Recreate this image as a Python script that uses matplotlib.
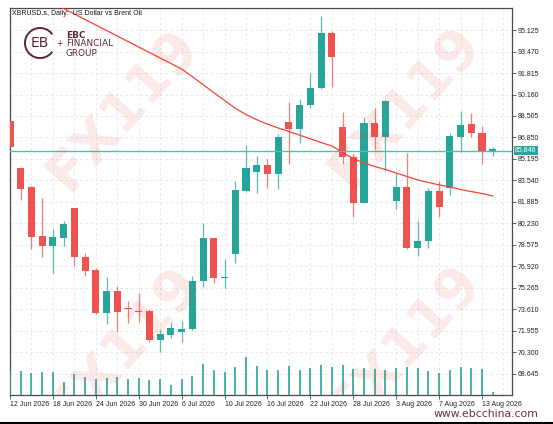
import numpy as np
import matplotlib.pyplot as plt
from matplotlib.patches import Arc

plt.rcParams['font.family'] = ['Liberation Sans', 'DejaVu Sans']

# daily bars, XBRUSD.s, 12 Jun 2026 .. 14 Aug 2026 (trading days)
opens = [88.12, 84.50, 83.04, 79.27, 78.50, 79.11, 81.42, 77.65, 76.65, 73.34,
         75.03, 73.69, 73.45, 73.49, 71.26, 71.65, 71.88, 72.11, 75.80, 79.11,
         76.00, 77.88, 82.73, 84.19, 84.73, 84.04, 88.04, 87.50, 89.35, 90.66,
         94.89, 87.66, 85.35, 81.81, 87.97, 86.89, 81.96, 83.04, 78.34, 78.88,
         82.73, 82.96, 86.89, 87.89, 87.20, 85.84]
highs = [88.20, 84.55, 83.12, 82.19, 79.81, 80.42, 81.46, 77.96, 76.80, 76.11,
         75.42, 74.26, 74.88, 73.65, 72.03, 72.65, 72.73, 76.19, 80.27, 79.15,
         77.50, 83.50, 86.27, 85.42, 85.19, 87.12, 89.58, 89.81, 91.81, 96.20,
         95.05, 88.81, 85.58, 88.43, 89.12, 89.74, 84.12, 85.66, 80.42, 82.96,
         83.50, 87.20, 88.89, 88.73, 87.73, 86.12]
lows = [86.05, 82.04, 78.27, 77.65, 76.42, 78.50, 76.96, 76.19, 73.30, 72.49,
        71.88, 72.57, 72.65, 71.11, 70.34, 71.42, 71.11, 72.03, 75.34, 75.65,
        75.27, 77.19, 82.65, 82.58, 82.96, 82.88, 84.81, 86.43, 89.12, 90.58,
        90.74, 84.81, 80.73, 81.77, 85.97, 84.27, 81.35, 78.27, 77.73, 78.34,
        80.73, 82.42, 85.73, 86.89, 84.81, 85.43]
closes = [86.12, 82.885, 79.19, 78.50, 79.19, 80.19, 77.65, 76.57, 73.34, 75.03,
          73.42, 73.61, 73.38, 71.26, 71.72, 72.19, 72.11, 75.80, 79.11, 76.03,
          76.05, 82.81, 84.50, 84.73, 84.04, 86.89, 87.50, 89.35, 90.66, 94.89,
          93.05, 85.35, 81.81, 87.97, 86.89, 89.66, 83.04, 78.34, 78.88, 82.73,
          81.50, 86.97, 87.81, 87.20, 85.81, 85.846]
volumes = [24, 24, 22, 23, 23, 13, 21, 18, 16, 17, 18, 16, 17, 15, 16, 10,
           16, 19, 31, 25, 23, 28, 38, 29, 25, 25, 29, 25, 27, 30, 28, 30,
           26, 27, 26, 25, 27, 28, 27, 24, 22, 25, 28, 27, 26, 3]
moving_avg = [98.86, 98.44, 98.05, 97.59, 97.20, 96.78, 96.36, 95.93, 95.51, 95.09,
              94.66, 94.24, 93.82, 93.39, 92.97, 92.55, 92.12, 91.53, 90.92, 90.30,
              89.70, 89.10, 88.62, 88.22, 87.88, 87.58, 87.32, 87.03, 86.74, 86.46,
              86.20, 85.70, 85.22, 84.89, 84.62, 84.39, 84.12, 83.85, 83.58, 83.39,
              83.20, 83.04, 82.85, 82.69, 82.54, 82.35]
last_price = 85.846

date_labels = ['12 Jun 2026', '18 Jun 2026', '24 Jun 2026', '30 Jun 2026', '6 Jul 2026',
               '10 Jul 2026', '16 Jul 2026', '22 Jul 2026', '28 Jul 2026', '3 Aug 2026',
               '7 Aug 2026', '13 Aug 2026']
price_ticks = [95.125, 93.470, 91.815, 90.160, 88.505, 86.850, 85.195, 83.540,
               81.885, 80.230, 78.575, 76.920, 75.265, 73.610, 71.955, 70.300, 68.645]

UP = '#26a69a'
DOWN = '#ef5350'
FRAME = '#4a4a4a'
W, H = 553, 424

fig = plt.figure(figsize=(W / 100, H / 100), dpi=100)
rect = [9.5 / W, (H - 395) / H, (512 - 9.5) / W, (395 - 8) / H]
ax = fig.add_axes(rect)
idx = np.arange(len(opens))

# grid
for gx in range(0, 47, 2):
    ax.axvline(gx, color='#e4e4e4', lw=0.6, ls=(0, (3, 3)), zorder=0)
for p in price_ticks:
    ax.axhline(p, color='#e4e4e4', lw=0.6, ls=(0, (3, 3)), zorder=0)

# candles
for i, (o, h, l, c) in enumerate(zip(opens, highs, lows, closes)):
    col = UP if c >= o else DOWN
    ax.vlines(i, l, h, color=col, lw=0.9, alpha=0.75, zorder=2)
    body = max(abs(c - o), 0.09)
    ax.bar(i, body, bottom=min(o, c), width=0.66, color=col, lw=0, zorder=3)

ax.plot(idx, moving_avg, color='#f44336', lw=0.9, zorder=4)
ax.axhline(last_price, color='#4dbfb0', lw=1.0, zorder=4)

ax.set_xlim(-0.05, 46.8)
ax.set_ylim(67.027, 96.819)

ax.yaxis.tick_right()
ax.set_yticks(price_ticks)
ax.set_yticklabels([f'{p:.3f}' for p in price_ticks])
ax.set_xticks(np.arange(0, 4 * len(date_labels), 4))
ax.set_xticklabels(date_labels)
for t in ax.get_xticklabels():
    t.set_ha('left')
ax.tick_params(axis='both', direction='out', length=3, width=0.6, color=FRAME,
               labelsize=5.0, labelcolor='#222222', pad=1.2)
for s in ax.spines.values():
    s.set_color(FRAME)
    s.set_linewidth(0.9)

# volumes in the bottom of the same window, drawn over the grid
axv = fig.add_axes(rect, sharex=ax)
axv.axis('off')
axv.patch.set_visible(False)
axv.vlines(idx, 0, volumes, color=UP, lw=1.2)
axv.set_ylim(0, max(volumes) * 387 / 38)

# overlay in pixel coordinates for watermark, logo and labels
ov = fig.add_axes([0, 0, 1, 1])
ov.set_xlim(0, W)
ov.set_ylim(H, 0)
ov.axis('off')

for cx, cy in [(123, 110), (405, 107), (124, 347), (405, 345)]:
    t = ov.text(cx, cy, 'FX119', fontsize=40, fontweight='bold', color='#e53935',
                family='DejaVu Sans', alpha=0.11, rotation=48, ha='center', va='center')
    t.set_clip_box(ax.bbox)
    t.set_clip_on(True)

ov.text(12, 13.5, 'XBRUSD.s, Daily:  US Dollar vs Brent Oil', fontsize=5.0,
        color='#111111', va='center', ha='left')

MAROON = '#5b2834'
ov.add_patch(Arc((40, 43), 30, 30, theta1=35, theta2=325, color=MAROON, lw=1.4))
ov.text(39.5, 43, 'EB', fontsize=10, color=MAROON, ha='center', va='center',
        family='DejaVu Sans')
ov.text(59, 44, '+', fontsize=5.5, color=MAROON, ha='center', va='center',
        family='DejaVu Sans')
for ty, word, wt in [(35, 'EBC', 'bold'), (44, 'FINANCIAL', 'normal'), (53, 'GROUP', 'normal')]:
    ov.text(66, ty, word, fontsize=6.4, color=MAROON, fontweight=wt, va='center',
            family='DejaVu Sans')

ov.text(538, 414, 'www.ebcchina.com', fontsize=7.8, color='#6a3040',
        ha='right', va='center', family='DejaVu Sans')

# current price box on the price scale
ov.text(515, 150.5, f'{last_price:.3f}', fontsize=5.0, color='white', ha='left', va='center',
        bbox=dict(boxstyle='square,pad=0.2', fc='#26a69a', ec='none'))

ov.plot([0, W], [422.5, 422.5], color='black', lw=1.5)

fig.savefig('out.png', dpi=100)
